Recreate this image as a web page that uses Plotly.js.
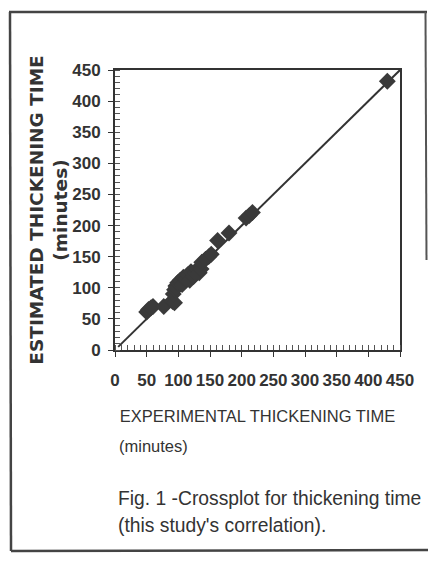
<!DOCTYPE html>
<html>
<head>
<meta charset="utf-8">
<script src="https://cdn.plot.ly/plotly-3.0.1.min.js"></script>
<style>
html,body{margin:0;padding:0;background:#fff;}
#chart{width:428px;height:561px;}
</style>
</head>
<body>
<div id="chart"></div>
<script>
// Experimental vs estimated thickening time (minutes)
const experimental = [50, 53, 57, 60, 77, 91, 94, 92, 94, 96, 97, 99, 103, 106, 108, 112, 115, 118, 120, 124, 127, 130, 133, 136, 137, 143, 148, 152, 162, 180, 207, 212, 217, 430];
const estimated    = [61, 65, 68, 70, 70, 78, 76, 90, 97, 103, 100, 108, 112, 105, 117, 114, 121, 112, 126, 118, 124, 130, 124, 130, 141, 146, 150, 154, 176, 188, 212, 216, 221, 432];
// 1:1 reference line
const lineX = [5, 450];
const lineY = [5, 450];
// axis ticks
const tickVals = [0, 50, 100, 150, 200, 250, 300, 350, 400, 450];
const tickText = ['0', '50', '100', '150', '200', '250', '300', '350', '400', '450'];

const yTitle = 'ESTIMATED THICKENING TIME<br>(minutes)';
const xTitle = 'EXPERIMENTAL THICKENING TIME';
const xTitle2 = '(minutes)';
const caption1 = 'Fig. 1 -Crossplot for thickening time';
const caption2 = "(this study's correlation).";

const W = 428, H = 561;
const M = {l: 115, r: 28, t: 70, b: 211};
const PW = W - M.l - M.r, PH = H - M.t - M.b;
const px = x => (x - M.l) / PW;
const py = y => (M.t + PH - y) / PH;

const ink = '#333333';
const sans = '"Liberation Sans", Arial, sans-serif';

const traces = [
  {
    x: lineX, y: lineY, mode: 'lines', type: 'scatter',
    line: {color: ink, width: 2}, hoverinfo: 'skip', showlegend: false
  },
  {
    x: experimental, y: estimated, mode: 'markers', type: 'scatter',
    marker: {symbol: 'diamond', size: 13, color: '#3a3a3a', line: {width: 0}},
    showlegend: false
  }
];

const axisCommon = {
  range: [0, 450],
  tickmode: 'array', tickvals: tickVals, ticktext: tickText, tickangle: 0,
  ticks: 'outside', ticklen: 5, tickwidth: 1, tickcolor: ink,
  minor: {ticks: 'inside', dtick: 10, ticklen: 5, tickwidth: 1, tickcolor: '#555'},
  showline: true, linecolor: ink, linewidth: 2, mirror: true,
  showgrid: false, zeroline: false, fixedrange: true,
  tickfont: {family: sans, size: 17, color: ink, weight: 'bold'}
};

const layout = {
  width: W, height: H,
  margin: M,
  paper_bgcolor: '#ffffff', plot_bgcolor: '#ffffff',
  showlegend: false,
  xaxis: Object.assign({}, axisCommon, {
    ticklabelstandoff: 9,
    title: {text: xTitle, standoff: 21, font: {family: sans, size: 16.5, color: ink}}
  }),
  yaxis: Object.assign({}, axisCommon, {
    ticklabelstandoff: 4,
    title: {text: yTitle, standoff: 0, font: {family: '"DejaVu Sans", sans-serif', size: 18.5, color: ink, weight: 'bold'}}
  }),
  annotations: [
    {text: xTitle2, xref: 'paper', yref: 'paper', x: px(117), y: py(446), xanchor: 'left', yanchor: 'middle',
     showarrow: false, font: {family: sans, size: 16.5, color: ink}},
    {text: caption1, xref: 'paper', yref: 'paper', x: px(116), y: py(499), xanchor: 'left', yanchor: 'middle',
     showarrow: false, font: {family: sans, size: 19.3, color: ink}},
    {text: caption2, xref: 'paper', yref: 'paper', x: px(116), y: py(525), xanchor: 'left', yanchor: 'middle',
     showarrow: false, font: {family: sans, size: 19.3, color: ink}}
  ],
  shapes: [
    {type: 'line', xref: 'paper', yref: 'paper', x0: px(9), y0: py(12), x1: px(427), y1: py(12), line: {color: '#444', width: 2.5}},
    {type: 'line', xref: 'paper', yref: 'paper', x0: px(10), y0: py(12), x1: px(11), y1: py(551), line: {color: '#444', width: 2.5}},
    {type: 'line', xref: 'paper', yref: 'paper', x0: px(11), y0: py(551), x1: px(428), y1: py(550), line: {color: '#444', width: 2.5}},
    {type: 'line', xref: 'paper', yref: 'paper', x0: px(425.5), y0: py(12), x1: px(426.5), y1: py(260), line: {color: '#555', width: 2}}
  ]
};

Plotly.newPlot('chart', traces, layout, {displayModeBar: false, staticPlot: true});
</script>
</body>
</html>
